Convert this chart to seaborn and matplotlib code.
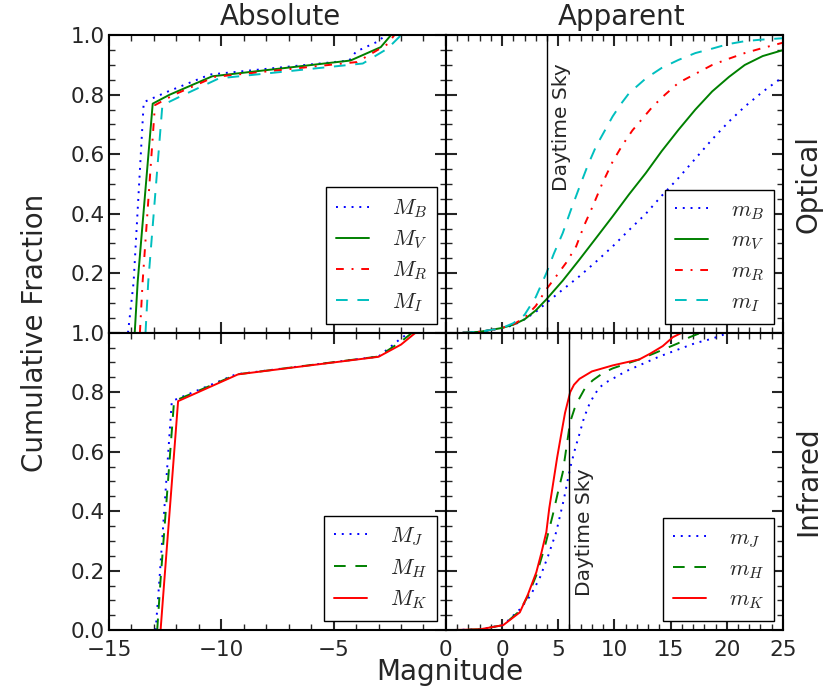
import numpy as np
import pandas as pd
import matplotlib
matplotlib.use("Agg")
import matplotlib.pyplot as plt
import seaborn as sns
from matplotlib.ticker import MultipleLocator

# ---------------- data ----------------
# Absolute, optical
MB_x = [-14.15, -13.9, -13.45, -12.4, -10.5, -4.3, -4.0, -3.0, -2.7]
MB_y = [0.0, 0.17, 0.775, 0.81, 0.868, 0.915, 0.945, 0.98, 1.0]
MV_x = [-13.85, -13.72, -13.05, -12.3, -10.4, -4.25, -2.9, -2.45]
MV_y = [0.0, 0.17, 0.77, 0.80, 0.862, 0.915, 0.96, 1.0]
MR_x = [-13.62, -13.5, -12.95, -12.1, -10.3, -3.95, -2.6, -2.3]
MR_y = [0.0, 0.17, 0.765, 0.80, 0.86, 0.91, 0.97, 1.0]
MI_x = [-13.37, -13.25, -12.62, -11.8, -10.1, -3.7, -2.6, -2.0]
MI_y = [0.0, 0.17, 0.765, 0.795, 0.855, 0.905, 0.955, 1.0]

# Absolute, infrared
MJ_x = [-12.92, -12.75, -12.2, -9.35, -3.0, -2.1, -1.65]
MJ_y = [0.0, 0.17, 0.77, 0.86, 0.92, 0.975, 1.0]
MH_x = [-12.85, -12.7, -12.1, -9.3, -3.0, -2.0, -1.5]
MH_y = [0.0, 0.17, 0.77, 0.86, 0.92, 0.97, 1.0]
MK_x = [-12.7, -12.55, -11.92, -9.25, -3.0, -2.0, -1.35]
MK_y = [0.0, 0.15, 0.77, 0.86, 0.919, 0.96, 1.0]

# Apparent, optical
mB_x = [-3.5, -2.0, 0.0, 1.0, 2.0, 3.0, 3.94, 5.4, 6.89, 8.4, 9.84, 11.3, 12.8,
        14.2, 15.7, 17.2, 18.7, 20.2, 21.6, 23.2, 25.0]
mB_y = [0.0, 0.003, 0.015, 0.025, 0.045, 0.07, 0.10, 0.145, 0.19, 0.24, 0.29,
        0.345, 0.40, 0.46, 0.52, 0.585, 0.65, 0.71, 0.76, 0.81, 0.86]
mV_x = [-3.5, -2.0, 0.0, 1.0, 2.0, 3.0, 3.94, 5.4, 6.89, 8.4, 9.84, 11.3, 12.8,
        14.2, 15.7, 17.2, 18.7, 20.2, 21.6, 23.2, 25.0]
mV_y = [0.0, 0.003, 0.016, 0.027, 0.045, 0.075, 0.112, 0.175, 0.246, 0.32, 0.391,
        0.465, 0.537, 0.61, 0.682, 0.75, 0.811, 0.86, 0.90, 0.93, 0.95]
mR_x = [-3.5, -2.0, 0.0, 1.0, 2.0, 3.0, 3.94, 4.82, 5.7, 6.59, 7.3, 8.07, 8.9,
        9.84, 10.7, 11.6, 12.5, 13.4, 14.5, 15.7, 17.2, 18.7, 20.1, 21.6, 23.0, 25.0]
mR_y = [0.0, 0.003, 0.016, 0.028, 0.05, 0.09, 0.146, 0.19, 0.235, 0.29, 0.36, 0.425,
        0.50, 0.575, 0.63, 0.68, 0.72, 0.76, 0.80, 0.84, 0.87, 0.90, 0.92, 0.94,
        0.955, 0.975]
mI_x = [-3.5, -2.0, 0.0, 1.0, 2.0, 3.0, 3.94, 4.6, 5.4, 6.1, 6.89, 7.6, 8.36,
        9.84, 10.6, 11.3, 12.8, 14.2, 15.7, 17.2, 18.7, 20.1, 21.6, 23.0, 25.0]
mI_y = [0.0, 0.003, 0.016, 0.032, 0.06, 0.12, 0.20, 0.265, 0.335, 0.41, 0.49, 0.56,
        0.626, 0.727, 0.77, 0.805, 0.855, 0.89, 0.917, 0.94, 0.955, 0.97, 0.98,
        0.985, 0.99]

# Apparent, infrared
mJ_x = [-4.9, -2.0, 0.1, 1.58, 2.5, 3.35, 4.1, 4.82, 5.5, 6.06, 6.5, 6.89, 7.3,
        7.77, 8.2, 8.65, 9.2, 9.84, 11.0, 12.2, 14.0, 15.7, 17.2, 18.7, 20.2]
mJ_y = [0.0, 0.003, 0.017, 0.07, 0.115, 0.175, 0.25, 0.33, 0.44, 0.545, 0.61, 0.66,
        0.715, 0.76, 0.79, 0.815, 0.832, 0.845, 0.87, 0.89, 0.92, 0.944, 0.965,
        0.98, 1.0]
mH_x = [-4.9, -2.0, 0.1, 1.58, 2.3, 3.05, 3.8, 4.53, 4.95, 5.4, 5.75, 6.06, 6.45,
        6.89, 7.4, 8.07, 9.0, 9.84, 11.0, 12.2, 13.5, 15.7, 16.7, 17.7]
mH_y = [0.0, 0.003, 0.017, 0.065, 0.115, 0.185, 0.28, 0.39, 0.46, 0.53, 0.62, 0.70,
        0.745, 0.78, 0.815, 0.84, 0.865, 0.88, 0.895, 0.91, 0.93, 0.965, 0.985, 1.0]
mK_x = [-4.9, -1.96, 0.1, 1.58, 2.3, 3.05, 3.5, 3.94, 4.2, 4.53, 4.9, 5.27, 5.6,
        6.06, 6.4, 6.89, 8.0, 9.84, 11.0, 12.2, 13.2, 14.3, 15.2, 16.0]
mK_y = [0.0, 0.003, 0.017, 0.06, 0.12, 0.195, 0.26, 0.33, 0.41, 0.49, 0.58, 0.66,
        0.73, 0.80, 0.825, 0.845, 0.87, 0.89, 0.90, 0.91, 0.93, 0.955, 0.985, 1.0]

daytime_optical = 4.0
daytime_infrared = 6.0

col_titles = ["Absolute", "Apparent"]
row_titles = ["Optical", "Infrared"]

# ---------------- style ----------------
sns.set_style("ticks")
plt.rcParams["font.family"] = ["DejaVu Sans"]
plt.rcParams["mathtext.fontset"] = "cm"
plt.rcParams["axes.linewidth"] = 1.5

BLUE, GREEN, RED, CYAN = (0, 0, 1), (0, 0.5, 0), (1, 0, 0), (0, 0.75, 0.75)
DOT = (0, (1, 3))
DASH = (0, (6, 5))
DASHDOT = (0, (4, 4, 1, 4))
SOLID = "-"

panels = {
    (0, 0): [(MB_x, MB_y, r"$M_B$", BLUE, DOT), (MV_x, MV_y, r"$M_V$", GREEN, SOLID),
             (MR_x, MR_y, r"$M_R$", RED, DASHDOT), (MI_x, MI_y, r"$M_I$", CYAN, DASH)],
    (0, 1): [(mB_x, mB_y, r"$m_B$", BLUE, DOT), (mV_x, mV_y, r"$m_V$", GREEN, SOLID),
             (mR_x, mR_y, r"$m_R$", RED, DASHDOT), (mI_x, mI_y, r"$m_I$", CYAN, DASH)],
    (1, 0): [(MJ_x, MJ_y, r"$M_J$", BLUE, DOT), (MH_x, MH_y, r"$M_H$", GREEN, DASH),
             (MK_x, MK_y, r"$M_K$", RED, SOLID)],
    (1, 1): [(mJ_x, mJ_y, r"$m_J$", BLUE, DOT), (mH_x, mH_y, r"$m_H$", GREEN, DASH),
             (mK_x, mK_y, r"$m_K$", RED, SOLID)],
}

fig, axes = plt.subplots(2, 2, figsize=(8.25, 6.91), dpi=100)
fig.subplots_adjust(left=0.132, right=0.949, top=0.949, bottom=0.088,
                    hspace=0, wspace=0)

TICK_FS = 15.5
for (r, c), series in panels.items():
    ax = axes[r, c]
    for xs, ys, lab, colr, ls in series:
        df = pd.DataFrame({"mag": xs, "frac": ys})
        sns.lineplot(data=df, x="mag", y="frac", ax=ax, color=colr,
                     linestyle=ls, linewidth=1.4, label=lab,
                     sort=False, estimator=None)
    if c == 0:
        ax.set_xlim(-15, 0)
        ax.set_xticks([-15, -10, -5, 0])
        ax.set_xticklabels(["\u221215", "\u221210", "\u22125", "0"])
    else:
        ax.set_xlim(-5, 25)
        ax.set_xticks([-5, 0, 5, 10, 15, 20, 25])
        ax.set_xticklabels(["", "0", "5", "10", "15", "20", "25"])
    ax.set_ylim(0, 1)
    ax.set_yticks([0, 0.2, 0.4, 0.6, 0.8, 1.0])
    if r == 0:
        ax.set_yticklabels(["", "0.2", "0.4", "0.6", "0.8", "1.0"])
    else:
        ax.set_yticklabels(["0.0", "0.2", "0.4", "0.6", "0.8", "1.0"])
    ax.xaxis.set_minor_locator(MultipleLocator(1))
    ax.yaxis.set_minor_locator(MultipleLocator(0.05))
    ax.tick_params(which="both", direction="in", top=True, right=True,
                   bottom=True, left=True, labelsize=TICK_FS)
    ax.tick_params(axis="x", pad=7)
    ax.tick_params(axis="y", pad=3)
    ax.tick_params(which="major", length=8, width=1.5)
    ax.tick_params(which="minor", length=4, width=1.0)
    if r == 0:
        ax.tick_params(labelbottom=False)
    if c == 1:
        ax.tick_params(labelleft=False)
    ax.set_xlabel("")
    ax.set_ylabel("")
    for sp in ax.spines.values():
        sp.set_linewidth(1.5)
        sp.set_color("black")
    leg = ax.legend(loc="lower right", fontsize=16, frameon=True, fancybox=False,
                    edgecolor="black", framealpha=1, handlelength=1.5,
                    labelspacing=0.4, borderpad=0.45, handletextpad=1.0,
                    borderaxespad=0.4)
    leg.get_frame().set_linewidth(1.0)

# Daytime sky lines
axes[0, 1].axvline(daytime_optical, color="black", lw=1.0)
axes[0, 1].text(daytime_optical + 0.45, 0.905, "Daytime Sky", rotation=90,
                ha="left", va="top", fontsize=14.5)
axes[1, 1].axvline(daytime_infrared, color="black", lw=1.0)
axes[1, 1].text(daytime_infrared + 0.45, 0.115, "Daytime Sky", rotation=90,
                ha="left", va="bottom", fontsize=14.5)

# column and row titles
fig.text(280 / 825, 1 - 17 / 691, col_titles[0], ha="center", va="center", fontsize=20)
fig.text(622 / 825, 1 - 17 / 691, col_titles[1], ha="center", va="center", fontsize=20)
fig.text(808 / 825, 1 - 184 / 691, row_titles[0], ha="center", va="center",
         rotation=90, fontsize=20)
fig.text(808 / 825, 1 - 481 / 691, row_titles[1], ha="center", va="center",
         rotation=90, fontsize=20)
fig.text(35 / 825, 1 - 333 / 691, "Cumulative Fraction", ha="center", va="center",
         rotation=90, fontsize=20)
fig.text(450 / 825, 1 - 672 / 691, "Magnitude", ha="center", va="center", fontsize=20)

fig.savefig("out.png", dpi=100)
